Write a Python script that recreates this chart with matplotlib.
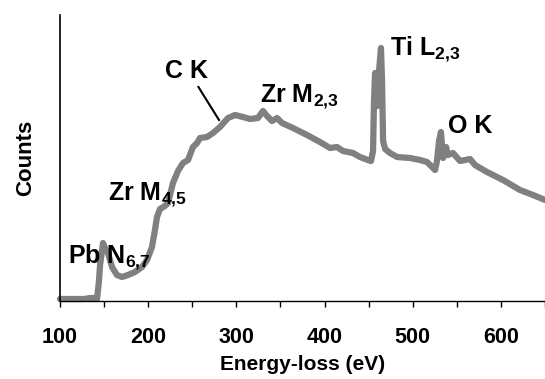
import matplotlib
matplotlib.use("Agg")
import matplotlib.pyplot as plt
import numpy as np

plt.rcParams['font.family'] = ['Liberation Sans', 'DejaVu Sans']
plt.rcParams['mathtext.fontset'] = 'custom'
plt.rcParams['mathtext.bf'] = 'Liberation Sans:bold'
plt.rcParams['mathtext.rm'] = 'Liberation Sans:bold'
plt.rcParams['mathtext.default'] = 'bf'

# Spectrum (energy loss in eV, counts in arbitrary units)
energy = [100, 128, 134, 140, 142, 144.2, 145.4, 147.6, 148.8, 151, 154.4, 159, 164.6,
          170.3, 177.1, 185, 193, 198.7, 204.3, 207.7, 210, 213.4, 219, 222.5, 228.1,
          233.8, 239.5, 245.2, 250.8, 255.4, 258.8, 266.7, 273.5, 281.4, 290.5, 298.5,
          307.5, 315.5, 324.5, 330.2, 334.8, 340.4, 346.1, 351.8, 364.2, 380.1, 394.8,
          406.2, 414.1, 420.9, 432.3, 440.2, 449.3, 452.7, 455, 456.1, 457.3, 458.4,
          460, 461.8, 464, 465.2, 466.4, 468.7, 474.2, 482.2, 496.9, 508.3, 516.2,
          525.3, 527.5, 529.8, 532, 533.2, 534.4, 537.8, 540, 545.7, 553.6, 565,
          570.6, 584.2, 602.4, 621.6, 636.4, 650]
counts = [2, 2, 3, 3, 2, 20, 36, 50, 58, 53, 48, 34, 26,
          24, 26, 29, 34, 41, 54, 71, 84, 92, 95, 98, 118,
          130, 138, 141, 154, 158, 163, 164, 168, 174, 183, 186,
          184, 182, 183, 190, 185, 180, 183, 178, 173, 166, 159,
          153, 154, 150, 148, 144, 141, 140, 150, 200, 228, 225,
          195, 230, 253, 220, 160, 152, 148, 144, 143, 141, 139,
          131, 140, 160, 169, 155, 143, 154, 146, 148, 140, 142,
          136, 129, 121, 111, 106, 101]

xticks_major = [100, 200, 300, 400, 500, 600]
xticks_minor = [150, 250, 350, 450, 550, 650]

edge_labels = [r'Pb N$_{6{,}7}$', r'Zr M$_{4{,}5}$', 'C K', r'Zr M$_{2{,}3}$', r'Ti L$_{2{,}3}$', 'O K']
edge_label_pos = [(109, 38), (154, 101), (219, 223), (327, 199), (474, 246), (540, 168)]

fig = plt.figure(figsize=(5.45, 3.79), dpi=100)
ax = fig.add_axes([60/545, 1 - 301/379, 485/545, 286/379])

ax.plot(energy, counts, color='#808080', lw=4.5, solid_joinstyle='round', solid_capstyle='round',
        clip_on=False)

ax.set_xlim(100, 650)
ax.set_ylim(0, 286)
ax.set_xticks(xticks_major)
ax.set_xticks(xticks_minor, minor=True)
ax.set_yticks([])
ax.tick_params(axis='x', which='both', direction='out', length=4, width=1, pad=14.5,
               labelsize=15.5)
for lab in ax.get_xticklabels():
    lab.set_fontweight('bold')
ax.spines['top'].set_visible(False)
ax.spines['right'].set_visible(False)
ax.spines['left'].set_linewidth(1.2)
ax.spines['bottom'].set_linewidth(1.0)

ax.set_xlabel('Energy-loss (eV)', fontsize=15, fontweight='bold', labelpad=5)
ax.set_ylabel('Counts', fontsize=16, fontweight='bold', labelpad=17)

for lab, (x, y) in zip(edge_labels, edge_label_pos):
    ax.text(x, y, lab, fontsize=18, fontweight='bold', ha='left', va='baseline')

ax.plot([257, 280.3], [214, 181], color='black', lw=1.5)

fig.savefig('out.png', dpi=100)
